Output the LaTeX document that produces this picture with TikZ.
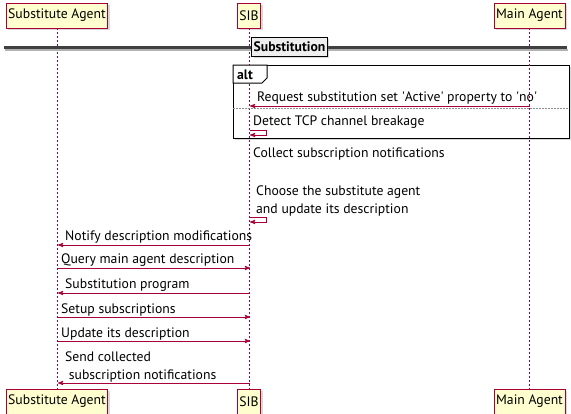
\documentclass[tikz,border=0pt]{standalone}
\usepackage{fontspec}
\setmainfont{PT Sans}
\usepackage{tikz}
\usetikzlibrary{arrows,shadows}
\definecolor{umlred}{HTML}{A80036}
\definecolor{umlfill}{HTML}{FEFECE}
\definecolor{divfill}{HTML}{EEEEEE}

\begin{document}
\begin{tikzpicture}[x=1pt,y=-1pt,>=stealth',
  font=\fontsize{13.7}{18}\selectfont,
  shade/.style={drop shadow={shadow xshift=2pt,shadow yshift=-2pt,opacity=0.3}},
  actor/.style={draw=umlred,fill=umlfill,line width=0.7pt,minimum height=25pt,
    inner xsep=2pt,inner ysep=0pt,shade},
  life/.style={umlred,line width=1pt,dash pattern=on 2pt off 2pt},
  msg/.style={->,umlred,line width=0.9pt},
  lbl/.style={anchor=south west,inner sep=0pt,align=left}]

  \useasboundingbox (0,0) rectangle (571,413);

  % alt frame (under the lifelines)
  \draw[line width=1pt,fill=white,shade] (233,65) rectangle (569,138);

  % participants
  \node[actor] (subTop)  at (57,15.5)  {Substitute Agent};
  \node[actor] (sibTop)  at (249,15.5) {SIB};
  \node[actor] (mainTop) at (529.5,15.5) {Main Agent};
  \node[actor] (subBot)  at (57,401.5)  {Substitute Agent};
  \node[actor] (sibBot)  at (249,401.5) {SIB};
  \node[actor] (mainBot) at (529.5,401.5) {Main Agent};

  \draw[life] (subTop) -- (subBot);
  \draw[life] (sibTop) -- (sibBot);
  \draw[life] (mainTop) -- (mainBot);

  % divider
  \draw[black!30,line width=2pt] (5,50) -- (568,50);
  \draw[black!75,line width=3pt] (4,47.5) -- (567,47.5);
  \node[draw,fill=divfill,line width=1pt,shade,minimum height=19pt,inner xsep=2pt,
    font=\fontsize{13.7}{18}\selectfont\bfseries] (div) at (289.5,46.5) {Substitution};

  % alt tab and separator
  \draw[line width=1pt,fill=white] (233,65) -- (267,65) -- (267,78) -- (262,83) -- (233,83) -- cycle;
  \node[anchor=base west,inner sep=0pt,font=\fontsize{13.7}{18}\selectfont\bfseries] (alt) at (237,79) {alt};
  \draw[black!45,line width=0.8pt,dash pattern=on 2pt off 1pt] (233,108.5) -- (569,108.5);

  % messages
  \coordinate (m1) at (530,106); \coordinate (b1) at (250,106);
  \draw[msg] (m1) -- (b1);
  \node[lbl] (t1) at (257,105) {Request substitution set \textquotesingle Active\textquotesingle\ property to \textquotesingle no\textquotesingle};

  \coordinate (b2) at (250,130); \coordinate (b2e) at (250,135);
  \draw[msg] (b2) -- ++(16,0) |- (b2e);
  \node[lbl] (t2) at (253,129) {Detect TCP channel breakage};

  \node[lbl] (t3) at (253,160) {Collect subscription notifications};

  \coordinate (b4) at (250,217); \coordinate (b4e) at (250,222);
  \draw[msg] (b4) -- ++(16,0) |- (b4e);
  \node[lbl] (t4) at (256,216) {Choose the substitute agent\\and update its description};

  \coordinate (b5) at (250,245); \coordinate (s5) at (58,245);
  \draw[msg] (b5) -- (s5);
  \node[lbl] (t5) at (65,244) {Notify description modifications};

  \coordinate (s6) at (58,268); \coordinate (b6) at (250,268);
  \draw[msg] (s6) -- (b6);
  \node[lbl] (t6) at (61,267) {Query main agent description};

  \coordinate (b7) at (250,293); \coordinate (s7) at (58,293);
  \draw[msg] (b7) -- (s7);
  \node[lbl] (t7) at (65,292) {Substitution program};

  \coordinate (s8) at (58,317); \coordinate (b8) at (250,317);
  \draw[msg] (s8) -- (b8);
  \node[lbl] (t8) at (61,316) {Setup subscriptions};

  \coordinate (s9) at (58,341); \coordinate (b9) at (250,341);
  \draw[msg] (s9) -- (b9);
  \node[lbl] (t9) at (61,340) {Update its description};

  \coordinate (b10) at (250,383); \coordinate (s10) at (58,383);
  \draw[msg] (b10) -- (s10);
  \node[lbl] (t10) at (65,382) {Send collected\\\ subscription notifications};

\end{tikzpicture}
\end{document}
